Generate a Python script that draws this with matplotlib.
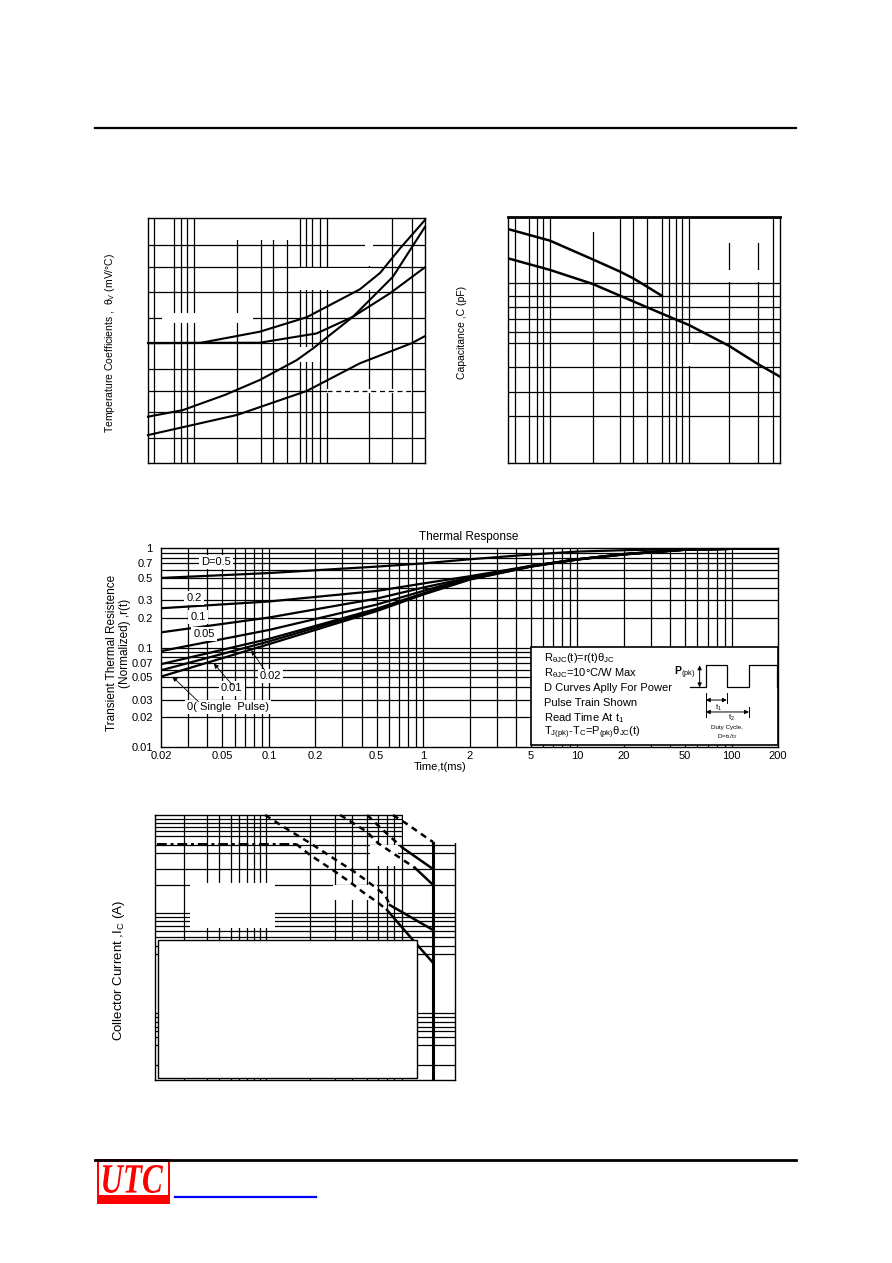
import numpy as np
import matplotlib.pyplot as plt
from matplotlib.patches import Rectangle, PathPatch
from matplotlib.lines import Line2D
from matplotlib.textpath import TextPath
from matplotlib.font_manager import FontProperties
from matplotlib.transforms import Affine2D
from matplotlib.ticker import NullLocator

plt.rcParams['font.family'] = ['Liberation Sans', 'DejaVu Sans']
plt.rcParams['mathtext.fontset'] = 'custom'
plt.rcParams['mathtext.rm'] = 'Liberation Sans'
plt.rcParams['mathtext.it'] = 'Liberation Sans:italic'
plt.rcParams['mathtext.bf'] = 'Liberation Sans:bold'
plt.rcParams['mathtext.default'] = 'regular'

# ---- data (unlabelled charts in % of axis span) ----
# temperature coefficient chart
tl_grid_x = [2.2, 9.4, 11.9, 14.1, 16.6, 32.1, 40.8, 45.1, 50.2, 54.9, 57.0, 59.2, 62.1, 64.6, 79.8, 88.1, 95.3]
tl_grid_y = [10.2, 20.8, 29.4, 38.4, 49.0, 59.2, 69.8, 80.0, 89.0]
tl_a_x = [0, 18.8, 40.4, 57.3, 76.5, 83.8, 91.0, 100]
tl_a_y = [48.9, 49.0, 53.6, 59.5, 70.9, 77.6, 87.6, 99.2]
tl_b_x = [0, 40.4, 60.9, 74.0, 87.4, 100]
tl_b_y = [49.0, 49.1, 52.9, 59.7, 69.3, 79.9]
tl_c_x = [0, 12.6, 27.8, 40.4, 53.7, 59.6, 74.0, 88.4, 100]
tl_c_y = [18.9, 21.6, 27.8, 33.9, 42.0, 46.8, 59.7, 76.0, 96.4]
tl_d_x = [0, 32.1, 57.3, 76.5, 95.2, 100]
tl_d_y = [11.4, 19.6, 29.4, 40.7, 48.9, 51.8]
tl_dash_x = [64.6, 95.3]
tl_dash_y = [29.4, 29.4]

# capacitance chart
tr_grid_x = [2.6, 7.7, 10.7, 12.9, 15.4, 31.3, 41.2, 46.0, 51.1, 56.6, 59.2, 61.8, 64.0, 66.5, 81.3, 91.9, 97.4]
tr_grid_y = [19.1, 28.9, 39.0, 48.8, 53.3, 58.5, 63.4, 67.9, 73.2]
tr_up_x = [0, 15.4, 31.1, 41.2, 46.0, 51.1, 56.5]
tr_up_y = [95.1, 90.4, 82.8, 77.8, 75.1, 71.7, 68.0]
tr_lo_x = [0, 15.4, 31.1, 41.2, 51.1, 59.2, 66.5, 81.3, 91.9, 100]
tr_lo_y = [83.2, 78.5, 72.8, 68.0, 63.3, 59.5, 56.1, 47.6, 40.2, 35.1]

# thermal response
th_t = [0.02, 0.1, 0.5, 1, 2, 5, 10, 20, 50, 100, 200]
th_curves = {
    '0.5':  [0.50, 0.56, 0.65, 0.70, 0.77, 0.86, 0.92, 0.95, 0.975, 0.98, 0.98],
    '0.2':  [0.248, 0.29, 0.37, 0.44, 0.52, 0.66, 0.77, 0.87, 0.965, 0.98, 0.98],
    '0.1':  [0.142, 0.20, 0.31, 0.40, 0.505, 0.66, 0.77, 0.87, 0.965, 0.98, 0.98],
    '0.05': [0.092, 0.15, 0.27, 0.37, 0.50, 0.655, 0.77, 0.865, 0.96, 0.98, 0.98],
    '0.02': [0.068, 0.122, 0.245, 0.35, 0.49, 0.655, 0.77, 0.865, 0.96, 0.98, 0.98],
    '0.01': [0.059, 0.115, 0.24, 0.345, 0.485, 0.65, 0.765, 0.86, 0.96, 0.98, 0.98],
    '0':    [0.051, 0.108, 0.232, 0.34, 0.48, 0.65, 0.765, 0.86, 0.96, 0.98, 0.98],
}
th_xticks = [0.02, 0.05, 0.1, 0.2, 0.5, 1, 2, 5, 10, 20, 50, 100, 200]
th_xlabels = ['0.02', '0.05', '0.1', '0.2', '0.5', '1', '2', '5', '10', '20', '50', '100', '200']
th_yticks = [0.01, 0.02, 0.03, 0.05, 0.07, 0.1, 0.2, 0.3, 0.5, 0.7, 1]
th_ylabels = ['0.01', '0.02', '0.03', '0.05', '0.07', '0.1', '0.2', '0.3', '0.5', '0.7', '1']

# safe operating area chart
soa_grid_x = [9.7, 17.3, 21.3, 25.3, 28.0, 30.7, 33.0, 35.0, 37.0, 51.7, 60.0, 65.7, 70.7, 74.3, 77.3, 79.7, 82.3]
soa_grid_y = [5.7, 13.2, 16.2, 18.5, 20.0, 21.9, 23.8, 25.3, 47.5, 50.6, 54.0, 56.2, 58.1, 60.0, 61.5,
              63.0, 73.6, 79.6, 85.7, 88.7, 92.1, 94.0, 95.5, 97.0, 98.5]
soa_icmax_x = [0.7, 47.0]
soa_icmax_y = [89.1, 89.1]
soa_dc_x = [47.0, 51.7, 59.3, 65.0, 69.3, 74.0, 77.3]
soa_dc_y = [89.1, 84.9, 79.2, 74.7, 70.9, 67.2, 64.2]
soa_dc_sb_x = [77.3, 86.0, 92.7]
soa_dc_sb_y = [64.2, 52.8, 44.2]
soa_p1_x = [36.7, 44.0, 51.7, 59.3, 66.0, 70.7, 76.7, 78.3]
soa_p1_y = [100, 94.7, 89.4, 83.8, 78.9, 75.1, 69.8, 66.0]
soa_p1_sb_x = [78.3, 92.7]
soa_p1_sb_y = [66.0, 56.6]
soa_p2_x = [61.7, 66.0, 70.7, 74.3, 86.7]
soa_p2_y = [100, 97.0, 93.6, 89.4, 80.0]
soa_p2_sb_x = [86.7, 92.7]
soa_p2_sb_y = [80.0, 73.6]
soa_p3_x = [70.7, 76.0, 80.0, 82.7]
soa_p3_y = [100, 94.3, 90.2, 87.5]
soa_p3_sb_x = [82.7, 92.7]
soa_p3_sb_y = [87.5, 79.6]
soa_p4_x = [79.3, 84.0, 90.7, 92.7]
soa_p4_y = [100, 96.6, 91.3, 89.8]
soa_vceo = 92.7

W, H = 892, 1263
fig = plt.figure(figsize=(W / 100, H / 100), dpi=100)


def px_axes(x0, y0, x1, y1):
    return fig.add_axes([x0 / W, 1 - y1 / H, (x1 - x0) / W, (y1 - y0) / H])


def grid_chart(ax, gx, gy):
    ax.set_xlim(0, 100)
    ax.set_ylim(0, 100)
    for v in gx:
        ax.axvline(v, color='black', lw=0.9, zorder=1)
    for v in gy:
        ax.axhline(v, color='black', lw=0.9, zorder=1)
    ax.set_xticks([])
    ax.set_yticks([])
    for s in ax.spines.values():
        s.set_linewidth(1.0)


def blank(ax, x, y, w, h, z=1.5):
    ax.add_patch(Rectangle((x, y), w, h, fc='white', ec='none', zorder=z, clip_on=False))


# page rules
fig.add_artist(Line2D([95 / W, 796 / W], [1 - 128 / H] * 2, color='black', lw=1.6))
fig.add_artist(Line2D([95 / W, 796 / W], [1 - 1160 / H] * 2, color='black', lw=2.0))

# ---- temperature coefficients ----
ax1 = px_axes(148, 218, 425, 463)
grid_chart(ax1, tl_grid_x, tl_grid_y)
blank(ax1, 31.0, 91.0, 21.0, 8.6)
blank(ax1, 54.2, 70.5, 26.8, 9.0)
blank(ax1, 78.3, 80.4, 2.9, 19.2)
blank(ax1, 5.1, 57.1, 32.8, 4.1)
blank(ax1, 52.3, 41.2, 9.8, 6.1)
blank(ax1, 64.6, 28.6, 30.7, 1.6)
for xs, ys in [(tl_a_x, tl_a_y), (tl_b_x, tl_b_y), (tl_c_x, tl_c_y), (tl_d_x, tl_d_y)]:
    ax1.plot(xs, ys, color='black', lw=1.5, zorder=3, clip_on=False)
ax1.plot(tl_dash_x, tl_dash_y, color='black', lw=0.9, ls=(0, (4, 3)), zorder=3)
fig.text(110 / W, 1 - 343 / H, r'Temperature Coefficients ,  $\theta_V$ (mV/°C)',
         rotation=90, ha='center', va='center', fontsize=7.5)

# ---- capacitance ----
ax2 = px_axes(508, 217, 780, 463)
grid_chart(ax2, tr_grid_x, tr_grid_y)
ax2.spines['top'].set_linewidth(2.0)
blank(ax2, 28.3, 93.9, 5.5, 5.7)
blank(ax2, 78.7, 89.4, 15.8, 10.2)
blank(ax2, 78.7, 73.6, 15.8, 4.9)
blank(ax2, 65.1, 39.4, 2.9, 9.0)
ax2.plot(tr_up_x, tr_up_y, color='black', lw=1.8, zorder=3)
ax2.plot(tr_lo_x, tr_lo_y, color='black', lw=1.8, zorder=3)
fig.text(462 / W, 1 - 332 / H, 'Capacitance ,C (pF)', rotation=90,
         ha='center', va='center', fontsize=7.5)

# ---- thermal response ----
ax3 = px_axes(161, 548, 778, 747)
ax3.set_xscale('log')
ax3.set_yscale('log')
ax3.set_xlim(0.02, 200)
ax3.set_ylim(0.01, 1)
for e in range(-2, 3):
    for k in range(1, 10):
        v = k * 10.0 ** e
        if 0.02 < v < 200:
            ax3.axvline(v, color='black', lw=0.9, zorder=1)
        if 0.01 < v < 1:
            ax3.axhline(v, color='black', lw=0.9, zorder=1)
for name, vals in th_curves.items():
    ax3.plot(th_t, vals, color='black', lw=1.6, zorder=3)
ax3.set_xticks(th_xticks)
ax3.set_xticklabels(th_xlabels)
ax3.set_yticks(th_yticks)
ax3.set_yticklabels(th_ylabels)
ax3.xaxis.set_minor_locator(NullLocator())
ax3.yaxis.set_minor_locator(NullLocator())
ax3.tick_params(length=0, labelsize=8)
ax3.tick_params(axis='x', pad=3)
ax3.tick_params(axis='y', pad=6)
for s in ax3.spines.values():
    s.set_linewidth(1.0)

lab = dict(fontsize=8, ha='center', va='center', zorder=4,
           bbox=dict(fc='white', ec='none', pad=1.5))
ax3.text(0.0454, 0.723, 'D=0.5', **lab)
ax3.text(0.0328, 0.312, '0.2', **lab)
ax3.text(0.0348, 0.204, '0.1', **lab)
ax3.text(0.0381, 0.136, '0.05', **lab)
ax3.text(0.1024, 0.0516, '0.02', **lab)
ax3.text(0.0575, 0.0388, '0.01', **lab)
ax3.text(0.0545, 0.0254, '0( Single  Pulse)', **lab)
arr = dict(arrowstyle='-|>', lw=0.6, color='black', mutation_scale=7, shrinkA=0, shrinkB=0)
ax3.annotate('', xy=(0.077, 0.094), xytext=(0.094, 0.059), arrowprops=arr, zorder=5)
ax3.annotate('', xy=(0.044, 0.069), xytext=(0.058, 0.042), arrowprops=arr, zorder=5)
ax3.annotate('', xy=(0.0237, 0.051), xytext=(0.035, 0.0285), arrowprops=arr, zorder=5)

# note box
ax3.add_patch(Rectangle((0.5997, 0.01), 0.4003, 0.495, transform=ax3.transAxes,
                        fc='white', ec='black', lw=1.2, zorder=6))
notes = [r'R$_{\theta JC}$(t)=r(t)$\theta_{JC}$',
         r'R$_{\theta JC}$=10°C/W Max',
         'D Curves Aplly For Power',
         'Pulse Train Shown',
         r'Read Time At t$_1$',
         r'T$_{J(pk)}$-T$_C$=P$_{(pk)}\theta_{JC}$(t)']
for i, s in enumerate(notes):
    ax3.text(0.621, 0.447 - i * 0.0755, s, transform=ax3.transAxes, fontsize=8,
             va='center', ha='left', zorder=7)
pulse_x = [0.857, 0.883, 0.883, 0.917, 0.917, 0.953, 0.953, 0.998, 0.998, 1.0]
pulse_y = [0.30, 0.30, 0.41, 0.41, 0.30, 0.30, 0.41, 0.41, 0.30, 0.30]
ax3.plot(pulse_x, pulse_y, color='black', lw=0.9, transform=ax3.transAxes, zorder=7)
ax3.text(0.866, 0.375, r'$\mathbf{P}_{(pk)}$', transform=ax3.transAxes, fontsize=7.5,
         ha='right', va='center', zorder=7)
arr2 = dict(arrowstyle='<|-|>', lw=0.7, color='black', mutation_scale=6, shrinkA=0, shrinkB=0)
ax3.annotate('', xy=(0.873, 0.41), xytext=(0.873, 0.30), xycoords='axes fraction',
             arrowprops=arr2, zorder=8)
ax3.annotate('', xy=(0.883, 0.236), xytext=(0.917, 0.236), xycoords='axes fraction',
             arrowprops=arr2, zorder=8)
ax3.annotate('', xy=(0.883, 0.176), xytext=(0.953, 0.176), xycoords='axes fraction',
             arrowprops=arr2, zorder=8)
for xv, y0, y1 in [(0.883, 0.15, 0.27), (0.917, 0.22, 0.27), (0.953, 0.15, 0.2)]:
    ax3.plot([xv, xv], [y0, y1], color='black', lw=0.7, transform=ax3.transAxes, zorder=8)
ax3.text(0.903, 0.198, r't$_1$', transform=ax3.transAxes, fontsize=5.5, ha='center', va='center', zorder=8)
ax3.text(0.925, 0.145, r't$_2$', transform=ax3.transAxes, fontsize=5.5, ha='center', va='center', zorder=8)
ax3.text(0.917, 0.100, 'Duty Cycle,', transform=ax3.transAxes, fontsize=4.5, ha='center', va='center', zorder=8)
ax3.text(0.917, 0.050, r'D=t$_1$/t$_2$', transform=ax3.transAxes, fontsize=4.5, ha='center', va='center', zorder=8)

fig.text(469 / W, 1 - 537 / H, 'Thermal Response', ha='center', va='center', fontsize=8.5)
fig.text(440 / W, 1 - 767 / H, 'Time,t(ms)', ha='center', va='center', fontsize=8)
fig.text(112 / W, 1 - 653 / H, 'Transient Thermal Resistence', rotation=90,
         ha='center', va='center', fontsize=8.5)
fig.text(125 / W, 1 - 643 / H, '(Normalized) ,r(t)', rotation=90,
         ha='center', va='center', fontsize=8.5)

# ---- safe operating area ----
ax4 = px_axes(155, 815, 455, 1080)
grid_chart(ax4, soa_grid_x, soa_grid_y)
blank(ax4, 11.7, 57.4, 28.3, 16.9)
blank(ax4, 59.3, 67.9, 14.7, 5.7)
blank(ax4, 71.7, 80.8, 9.3, 7.9)
blank(ax4, 82.5, 89.5, 18.5, 11.0, z=2.6)
ax4.plot(soa_icmax_x, soa_icmax_y, color='black', lw=1.4, ls=(0, (5, 2, 1.5, 2)), zorder=3)
dash = (0, (2.5, 2))
for xs, ys in [(soa_dc_x, soa_dc_y), (soa_p1_x, soa_p1_y), (soa_p2_x, soa_p2_y),
               (soa_p3_x, soa_p3_y), (soa_p4_x, soa_p4_y)]:
    ax4.plot(xs, ys, color='black', lw=1.8, ls=dash, zorder=3, clip_on=False)
for xs, ys in [(soa_dc_sb_x, soa_dc_sb_y), (soa_p1_sb_x, soa_p1_sb_y),
               (soa_p2_sb_x, soa_p2_sb_y), (soa_p3_sb_x, soa_p3_sb_y)]:
    ax4.plot(xs, ys, color='black', lw=1.8, zorder=3)
ax4.plot([soa_vceo, soa_vceo], [0, 89.4], color='black', lw=2.2, zorder=3)
ax4.add_patch(Rectangle((1.0, 0.75), 86.3, 52.0, fc='white', ec='black', lw=1.0, zorder=4))
fig.text(119 / W, 1 - 971 / H, r'Collector Current ,I$_C$ (A)', rotation=90,
         ha='center', va='center', fontsize=9.5)

# ---- logo ----
fig.add_artist(Rectangle((97 / W, 1 - 1204 / H), 73 / W, 45 / H, fc='#ff0000', ec='none'))
fig.add_artist(Rectangle((99 / W, 1 - 1195 / H), 69 / W, 33 / H, fc='white', ec='none'))
tp = TextPath((0, 0), 'UTC', size=1,
              prop=FontProperties(family='Liberation Serif', weight='bold', style='italic'))
ext = tp.get_extents()
sx, sy = 60 / ext.width, 28 / ext.height
tr = Affine2D().translate(-ext.x0, -ext.y0).scale(sx, sy).translate(103, H - 1193)
fig.add_artist(PathPatch(tp, transform=tr, fc='#ff0000', ec='none'))
fig.add_artist(Line2D([175 / W, 316 / W], [1 - 1197 / H] * 2, color='#0000ff', lw=1.6))

fig.savefig('out.png', dpi=100)
